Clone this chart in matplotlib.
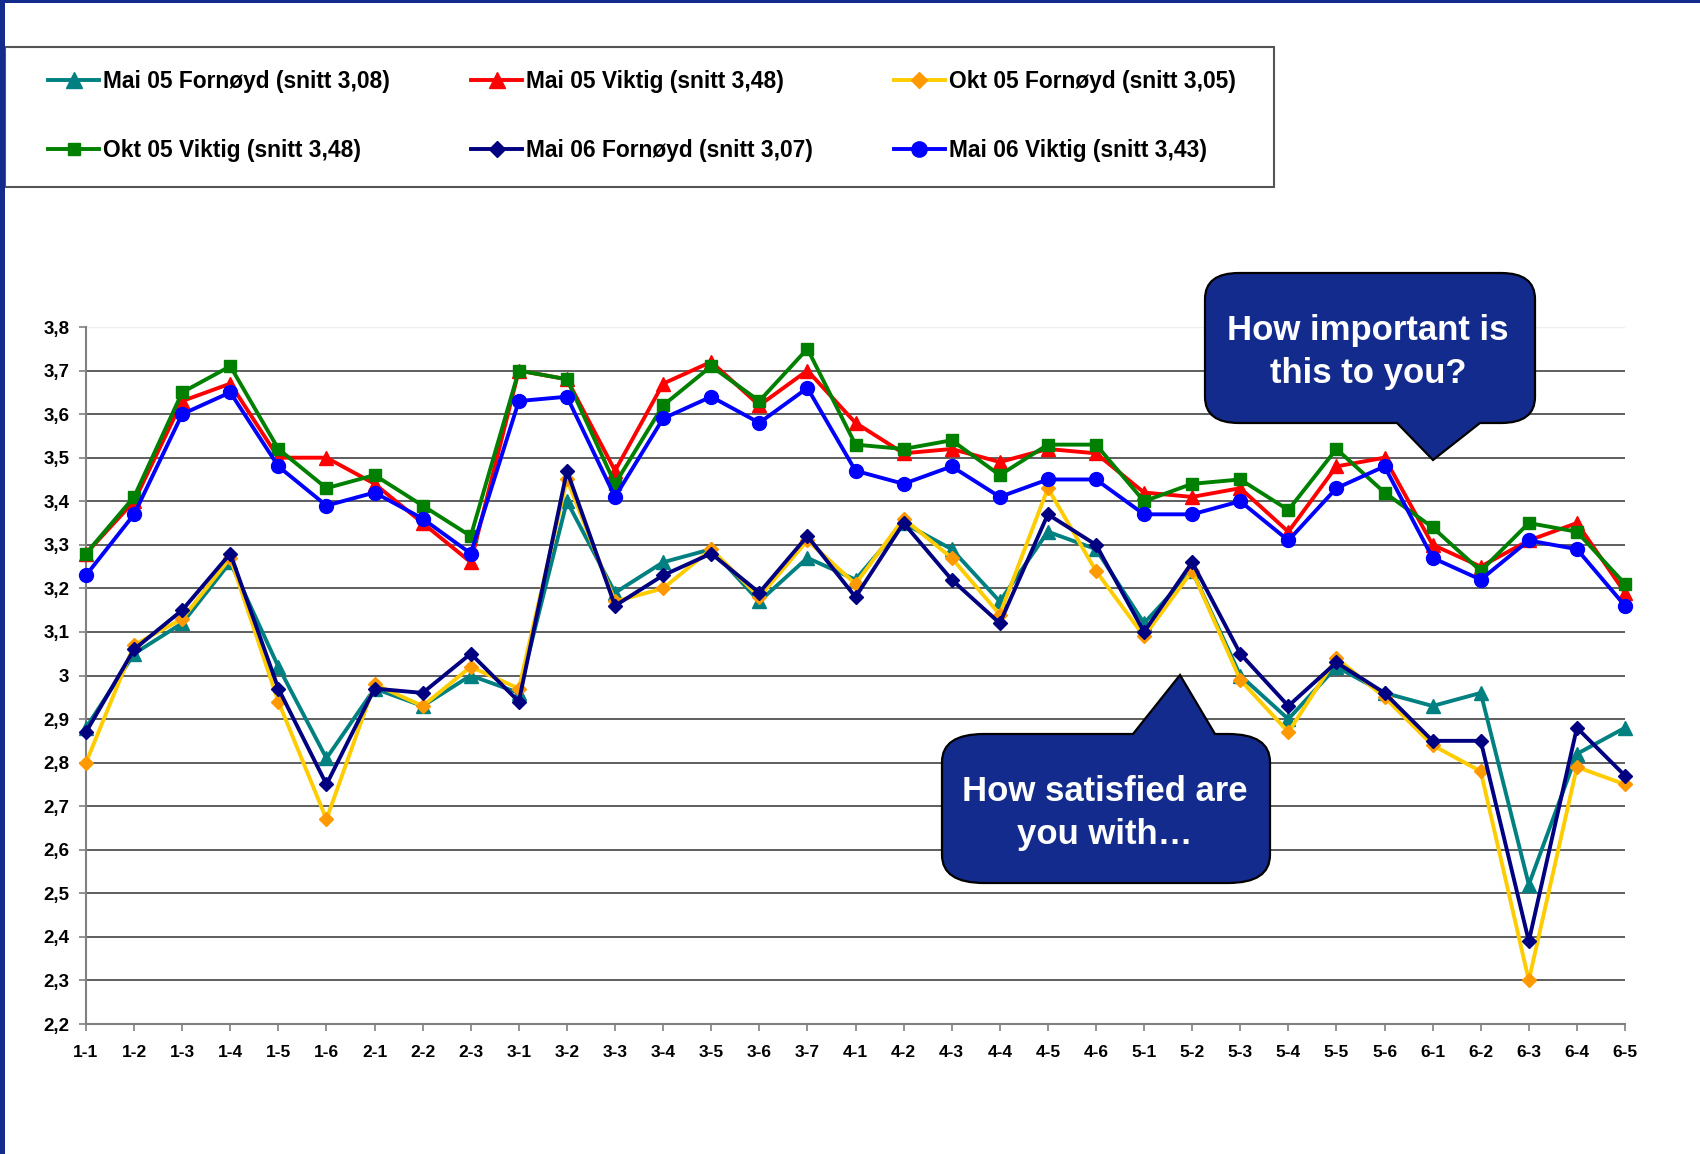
import matplotlib
matplotlib.use("Agg")
import matplotlib.pyplot as plt
from matplotlib.path import Path
from matplotlib.patches import PathPatch, Rectangle
from matplotlib.ticker import FixedLocator, FuncFormatter

plt.rcParams['font.family'] = ['Liberation Sans', 'DejaVu Sans']
plt.rcParams['font.weight'] = 'bold'

categories = ["1-1", "1-2", "1-3", "1-4", "1-5", "1-6", "2-1", "2-2", "2-3",
              "3-1", "3-2", "3-3", "3-4", "3-5", "3-6", "3-7",
              "4-1", "4-2", "4-3", "4-4", "4-5", "4-6",
              "5-1", "5-2", "5-3", "5-4", "5-5", "5-6",
              "6-1", "6-2", "6-3", "6-4", "6-5"]

mai05_fornoyd = [2.88, 3.05, 3.12, 3.26, 3.02, 2.81, 2.97, 2.93, 3.00,
                 2.96, 3.40, 3.19, 3.26, 3.29, 3.17, 3.27,
                 3.22, 3.35, 3.29, 3.17, 3.33, 3.29,
                 3.12, 3.24, 3.00, 2.90, 3.02, 2.96,
                 2.93, 2.96, 2.52, 2.82, 2.88]
mai05_viktig = [3.28, 3.40, 3.63, 3.67, 3.50, 3.50, 3.44, 3.35, 3.26,
                3.70, 3.68, 3.47, 3.67, 3.72, 3.62, 3.70,
                3.58, 3.51, 3.52, 3.49, 3.52, 3.51,
                3.42, 3.41, 3.43, 3.33, 3.48, 3.50,
                3.30, 3.25, 3.31, 3.35, 3.19]
okt05_fornoyd = [2.80, 3.07, 3.13, 3.27, 2.94, 2.67, 2.98, 2.93, 3.02,
                 2.97, 3.45, 3.17, 3.20, 3.29, 3.18, 3.31,
                 3.21, 3.36, 3.27, 3.14, 3.43, 3.24,
                 3.09, 3.24, 2.99, 2.87, 3.04, 2.95,
                 2.84, 2.78, 2.30, 2.79, 2.75]
okt05_viktig = [3.28, 3.41, 3.65, 3.71, 3.52, 3.43, 3.46, 3.39, 3.32,
                3.70, 3.68, 3.44, 3.62, 3.71, 3.63, 3.75,
                3.53, 3.52, 3.54, 3.46, 3.53, 3.53,
                3.40, 3.44, 3.45, 3.38, 3.52, 3.42,
                3.34, 3.24, 3.35, 3.33, 3.21]
mai06_fornoyd = [2.87, 3.06, 3.15, 3.28, 2.97, 2.75, 2.97, 2.96, 3.05,
                 2.94, 3.47, 3.16, 3.23, 3.28, 3.19, 3.32,
                 3.18, 3.35, 3.22, 3.12, 3.37, 3.30,
                 3.10, 3.26, 3.05, 2.93, 3.03, 2.96,
                 2.85, 2.85, 2.39, 2.88, 2.77]
mai06_viktig = [3.23, 3.37, 3.60, 3.65, 3.48, 3.39, 3.42, 3.36, 3.28,
                3.63, 3.64, 3.41, 3.59, 3.64, 3.58, 3.66,
                3.47, 3.44, 3.48, 3.41, 3.45, 3.45,
                3.37, 3.37, 3.40, 3.31, 3.43, 3.48,
                3.27, 3.22, 3.31, 3.29, 3.16]

series_labels = ["Mai 05 Fornøyd (snitt 3,08)", "Mai 05 Viktig (snitt 3,48)",
                 "Okt 05 Fornøyd (snitt 3,05)", "Okt 05 Viktig (snitt 3,48)",
                 "Mai 06 Fornøyd (snitt 3,07)", "Mai 06 Viktig (snitt 3,43)"]
y_ticks = [2.2, 2.3, 2.4, 2.5, 2.6, 2.7, 2.8, 2.9, 3.0, 3.1, 3.2, 3.3, 3.4, 3.5, 3.6, 3.7, 3.8]
callout_texts = ["How important is\nthis to you?", "How satisfied are\nyou with…"]

W, H = 1700, 1154
fig = plt.figure(figsize=(W / 100, H / 100), dpi=100)
fig.patch.set_facecolor('white')

def fx(x):
    return x / W

def fy(y):
    return 1 - y / H

ax = fig.add_axes([fx(86), fy(1024), fx(1625) - fx(86), fy(327) - fy(1024)])

styles = [
    dict(color='#008080', marker='^', ms=10, mfc='#008080', mec='#008080'),
    dict(color='#FF0000', marker='^', ms=10, mfc='#FF0000', mec='#FF0000'),
    dict(color='#FFCC00', marker='D', ms=7, mfc='#FF9900', mec='#FF9900'),
    dict(color='#008000', marker='s', ms=8, mfc='#008000', mec='#008000'),
    dict(color='#000080', marker='D', ms=7.5, mfc='#000080', mec='#000080'),
    dict(color='#0000FF', marker='o', ms=10, mfc='#0000FF', mec='#0000FF'),
]
data = [mai05_fornoyd, mai05_viktig, okt05_fornoyd, okt05_viktig, mai06_fornoyd, mai06_viktig]
x = list(range(len(categories)))
handles = []
for vals, st, lab in zip(data, styles, series_labels):
    ln, = ax.plot(x, vals, lw=2.8, label=lab, clip_on=False, zorder=3, **st)
    handles.append(ln)

ax.set_xlim(0, len(categories) - 1)
ax.set_ylim(2.2, 3.8)
ax.set_xticks(x)
ax.set_xticklabels(categories)
ax.yaxis.set_major_locator(FixedLocator(y_ticks))

def fmt(v, pos):
    s = ('%.1f' % v)
    if s.endswith('.0'):
        s = s[:-2]
    return s.replace('.', ',')

ax.yaxis.set_major_formatter(FuncFormatter(fmt))
ax.tick_params(axis='both', colors='#000000', width=1.2, length=5)
ax.tick_params(axis='x', pad=10, color='#808080', labelsize=12.5)
ax.tick_params(axis='y', pad=7, color='#808080', labelsize=13.5)
for lab in ax.get_xticklabels() + ax.get_yticklabels():
    lab.set_fontweight('bold')

for yv in y_ticks[1:-1]:
    ax.axhline(yv, color='#333333', lw=1.1, zorder=1)
ax.axhline(3.8, color='#eeeeee', lw=1.0, zorder=1)

for s in ['top', 'right']:
    ax.spines[s].set_visible(False)
ax.spines['left'].set_color('#808080')
ax.spines['bottom'].set_color('#808080')
ax.spines['left'].set_linewidth(1.5)
ax.spines['bottom'].set_linewidth(1.5)

# legend frame
fig.patches.append(Rectangle((fx(5), fy(187)), fx(1274) - fx(5), fy(47) - fy(187),
                             transform=fig.transFigure, facecolor='white',
                             edgecolor='#555555', lw=1.5, zorder=0.5))
order = [0, 3, 1, 4, 2, 5]
leg = fig.legend([handles[i] for i in order], [series_labels[i] for i in order],
                 ncol=3, loc='upper left',
                 bbox_to_anchor=(fx(48), fy(70) - 0.001, fx(1236) - fx(48), 0.001),
                 mode='expand', frameon=False, borderpad=0, borderaxespad=0,
                 handlelength=2.25, handletextpad=0.18, labelspacing=2.0,
                 numpoints=1, markerscale=1.1,
                 prop=dict(family='Liberation Sans', weight='bold', size=16.4))

# navy frame
navy = '#132B8C'
fig.patches.append(Rectangle((0, 0), fx(5), 1, transform=fig.transFigure,
                             facecolor=navy, edgecolor='none', zorder=10))
fig.patches.append(Rectangle((0, fy(3)), 1, fy(0) - fy(3), transform=fig.transFigure,
                             facecolor=navy, edgecolor='none', zorder=10))

def callout(x0, y0, x1, y1, rx, ry, bx0, bx1, tx, ty, side):
    pts = []
    codes = []
    def mv(p):
        pts.append(p); codes.append(Path.MOVETO)
    def ln(p):
        pts.append(p); codes.append(Path.LINETO)
    def cv(c, p):
        pts.extend([c, p]); codes.extend([Path.CURVE3, Path.CURVE3])
    mv((x0 + rx, y0))
    if side == 'top':
        ln((bx0, y0)); ln((tx, ty)); ln((bx1, y0))
    ln((x1 - rx, y0))
    cv((x1, y0), (x1, y0 + ry))
    ln((x1, y1 - ry))
    cv((x1, y1), (x1 - rx, y1))
    if side == 'bottom':
        ln((bx1, y1)); ln((tx, ty)); ln((bx0, y1))
    ln((x0 + rx, y1))
    cv((x0, y1), (x0, y1 - ry))
    ln((x0, y0 + ry))
    cv((x0, y0), (x0 + rx, y0))
    pts.append((x0 + rx, y0)); codes.append(Path.CLOSEPOLY)
    pts = [(fx(a), fy(b)) for a, b in pts]
    patch = PathPatch(Path(pts, codes), transform=fig.transFigure, facecolor=navy,
                      edgecolor='black', lw=1.6, zorder=6)
    fig.patches.append(patch)

callout(1205, 273, 1535, 423, 34, 26, 1397, 1480, 1433, 460, 'bottom')
callout(942, 734, 1270, 883, 42, 28, 1133, 1215, 1180, 675, 'top')

fig.text(fx(1368), fy(352), callout_texts[0], ha='center', va='center', color='white',
         fontsize=25, fontweight='bold', linespacing=1.36, zorder=7)
fig.text(fx(1105), fy(813), callout_texts[1], ha='center', va='center', color='white',
         fontsize=25, fontweight='bold', linespacing=1.38, zorder=7)

fig.savefig('out.png', dpi=100)
